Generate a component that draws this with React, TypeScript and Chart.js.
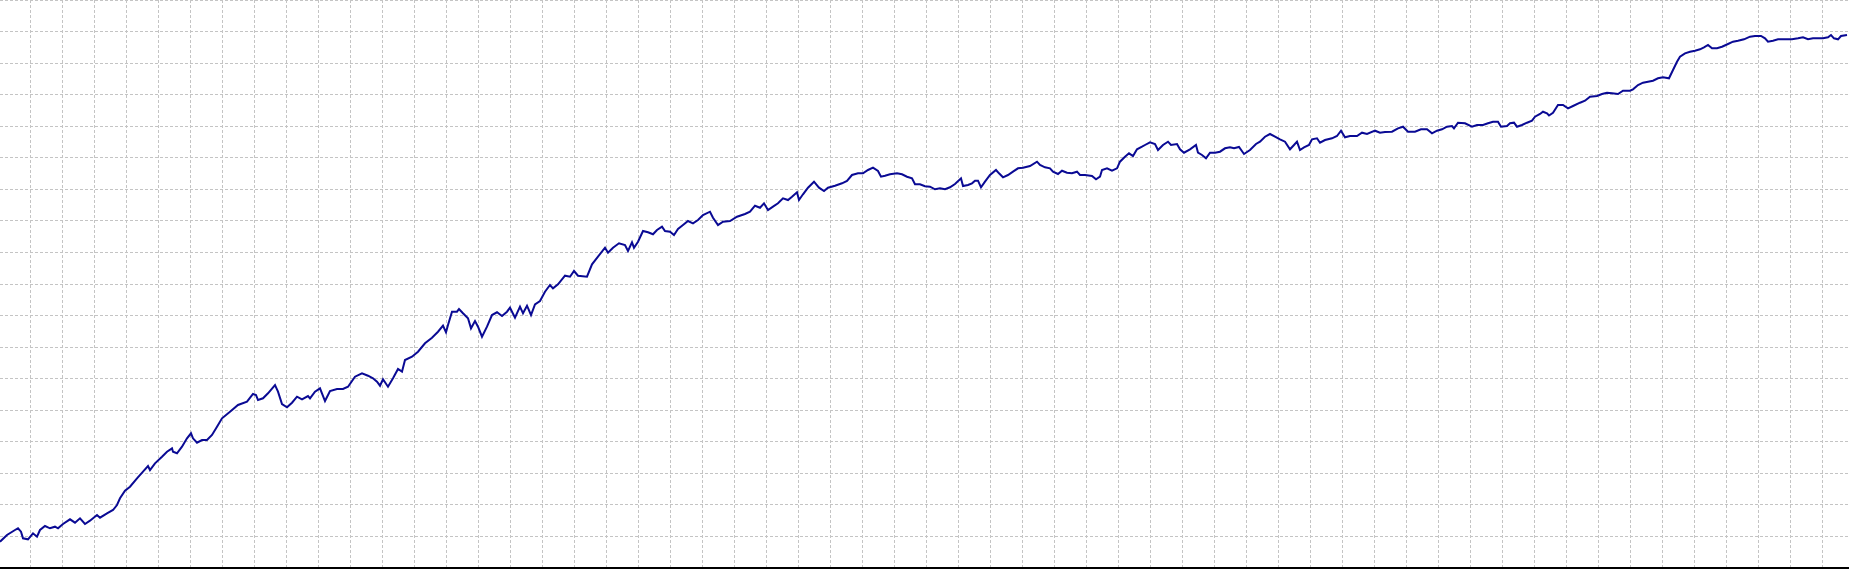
import { useEffect, useRef } from "react";
import { Chart, registerables } from "chart.js";

Chart.register(...registerables);

// Trade number (x) and account balance (y)
const trades: number[] = [
  0, 7, 15, 18, 21, 23, 28, 33, 37, 40, 45, 50, 55, 58, 63, 70, 75, 80, 85, 90, 97, 100, 107, 113, 117, 120, 125, 130, 137, 143, 148, 150, 155, 162, 167, 172, 173, 177, 182, 187, 191, 193, 197, 202, 207, 212, 217, 222, 230, 238, 247, 253, 256, 258, 263, 268, 275, 278, 282, 287, 292, 297, 302, 308,
  310, 315, 320, 325, 330, 337, 343, 348, 355, 362, 368, 373, 377, 380, 383, 388, 393, 398, 402, 405, 412, 418, 425, 432, 438, 443, 446, 448, 452, 457, 459, 463, 468, 471, 475, 478, 482, 487, 492, 497, 502, 507, 510, 515, 520, 523, 527, 531, 535, 540, 545, 550, 553, 558, 565, 570, 574, 578, 587, 592, 598, 605, 608, 613,
  619, 625, 628, 632, 634, 638, 643, 648, 653, 657, 662, 665, 670, 674, 678, 683, 688, 693, 698, 703, 710, 713, 718, 723, 730, 737, 745, 750, 755, 760, 764, 768, 773, 778, 783, 788, 792, 797, 799, 803, 808, 814, 819, 824, 828, 835, 842, 847, 852, 858, 863, 868, 873, 878, 881, 885, 890, 897, 902, 907, 912, 915, 920, 925,
  930, 935, 940, 945, 950, 955, 961, 963, 968, 972, 975, 978, 981, 985, 990, 996, 999, 1003, 1008, 1013, 1018, 1023, 1030, 1037, 1040, 1045, 1050, 1053, 1058, 1062, 1067, 1072, 1077, 1080, 1085, 1092, 1096, 1100, 1102, 1107, 1112, 1117, 1120, 1125, 1129, 1133, 1137, 1142, 1145, 1150, 1155, 1158, 1163, 1168, 1171, 1177, 1180, 1184, 1190, 1196, 1198, 1202, 1206, 1210, 1215, 1220, 1225, 1230, 1234,
  1239, 1244, 1250, 1256, 1260, 1265, 1270, 1275, 1280, 1285, 1290, 1294, 1297, 1300, 1304, 1309, 1312, 1317, 1320, 1325, 1332, 1337, 1341, 1345, 1350, 1357, 1362, 1367, 1375, 1380, 1385, 1392, 1398, 1403, 1408, 1415, 1421, 1427, 1432, 1437, 1442, 1447, 1452, 1454, 1458, 1465, 1472, 1477, 1483, 1488, 1493, 1498, 1501, 1507, 1510, 1514, 1517, 1522, 1527, 1532, 1535, 1540, 1543, 1547,
  1549, 1553, 1558, 1563, 1568, 1573, 1580, 1585, 1590, 1597, 1602, 1607, 1612, 1618, 1623, 1630, 1633, 1638, 1643, 1648, 1653, 1658, 1663, 1669, 1673, 1677, 1680, 1685, 1690, 1695, 1700, 1704, 1708, 1712, 1717, 1722, 1728, 1733, 1738, 1744, 1750, 1755, 1761, 1765, 1768, 1773, 1778, 1785, 1792, 1798, 1803, 1808, 1813, 1818, 1823, 1828, 1831, 1834, 1838, 1841, 1847,
];

const balance: number[] = [
  9853, 9920, 9970, 9987, 9953, 9887, 9877, 9937, 9903, 9970, 10010, 9987, 10003, 9987, 10030, 10077, 10043, 10087, 10030, 10063, 10120, 10093, 10137, 10170, 10220, 10287, 10363, 10403, 10487, 10553, 10610, 10570, 10637, 10703, 10753, 10787, 10753, 10737, 10803, 10887, 10937, 10887, 10843, 10870, 10870, 10920, 11003, 11087, 11153, 11220, 11253, 11330, 11320, 11270, 11287, 11337, 11420, 11353, 11230, 11197, 11243, 11303, 11277, 11310,
  11287, 11353, 11387, 11260, 11360, 11380, 11380, 11403, 11503, 11537, 11513, 11487, 11453, 11413, 11477, 11403, 11487, 11580, 11553, 11670, 11703, 11753, 11837, 11893, 11953, 12013, 11947, 12020, 12153, 12153, 12180, 12137, 12087, 11987, 12060, 12003, 11903, 12003, 12120, 12147, 12110, 12153, 12193, 12093, 12203, 12137, 12213, 12120, 12227, 12260, 12353, 12420, 12387, 12427, 12513, 12503, 12560, 12513, 12503, 12627, 12703, 12793, 12743, 12793,
  12837, 12820, 12760, 12847, 12793, 12853, 12960, 12947, 12927, 12970, 13003, 12960, 12953, 12920, 12980, 13020, 13060, 13037, 13070, 13120, 13153, 13093, 13020, 13053, 13060, 13103, 13130, 13153, 13213, 13193, 13237, 13170, 13203, 13237, 13287, 13270, 13303, 13347, 13270, 13327, 13393, 13453, 13393, 13360, 13393, 13413, 13437, 13460, 13520, 13537, 13537, 13570, 13593, 13560, 13503, 13513, 13527, 13537, 13527, 13503, 13487, 13427, 13427, 13407,
  13403, 13377, 13387, 13377, 13397, 13430, 13487, 13410, 13420, 13437, 13463, 13463, 13397, 13453, 13520, 13570, 13537, 13497, 13520, 13553, 13587, 13593, 13610, 13653, 13620, 13597, 13587, 13553, 13530, 13563, 13543, 13537, 13553, 13520, 13520, 13510, 13477, 13503, 13570, 13587, 13563, 13587, 13653, 13703, 13737, 13710, 13777, 13803, 13820, 13847, 13830, 13770, 13820, 13853, 13820, 13830, 13777, 13743, 13777, 13820, 13743, 13720, 13687, 13743, 13743, 13753, 13787, 13797, 13787,
  13800, 13730, 13770, 13830, 13853, 13903, 13930, 13903, 13877, 13853, 13777, 13820, 13853, 13770, 13797, 13820, 13877, 13887, 13843, 13870, 13887, 13910, 13963, 13897, 13910, 13910, 13943, 13930, 13963, 13943, 13950, 13953, 13987, 14003, 13953, 13953, 13977, 13977, 13937, 13963, 13977, 14003, 14010, 13987, 14043, 14037, 14003, 14020, 14020, 14037, 14053, 14053, 14003, 14010, 14037, 14043, 14003, 14020, 14043, 14063, 14103, 14130, 14153, 14137,
  14115, 14143, 14220, 14220, 14187, 14210, 14243, 14263, 14303, 14310, 14330, 14343, 14337, 14330, 14363, 14363, 14377, 14420, 14443, 14453, 14463, 14487, 14497, 14487, 14570, 14653, 14703, 14737, 14753, 14763, 14777, 14797, 14820, 14787, 14787, 14803, 14830, 14853, 14863, 14877, 14903, 14910, 14910, 14887, 14853, 14863, 14877, 14877, 14877, 14887, 14897, 14877, 14887, 14887, 14887, 14897, 14920, 14887, 14877, 14910, 14920,
];

// Axis ranges and grid steps
const tradeRange = [0, 1849];
const balanceRange = [9590, 15270];
const balanceGridStep = 320;
const tradeGridRange = [-30.5, 1818.5];
const tradeGridStep = 32;

const LINE_COLOR = "#0a0a94";
const GRID_COLOR = "#c4c4c4";

export default function App() {
  const ref = useRef<HTMLCanvasElement>(null);

  useEffect(() => {
    document.body.style.margin = "0";
    const canvas = ref.current;
    if (!canvas) return;
    const points = trades.map((t, i) => ({ x: t, y: balance[i] }));
    const chart = new Chart(canvas, {
      type: "line",
      data: {
        datasets: [
          {
            data: points,
            borderColor: LINE_COLOR,
            backgroundColor: LINE_COLOR,
            borderWidth: 2,
            pointRadius: 0,
            tension: 0,
            fill: false,
            xAxisID: "x",
            yAxisID: "y",
          },
        ],
      },
      options: {
        responsive: false,
        animation: false,
        devicePixelRatio: 1,
        layout: { padding: { top: 0, left: 0, right: 0, bottom: 2 } },
        plugins: { legend: { display: false }, tooltip: { enabled: false } },
        scales: {
          x: {
            type: "linear",
            display: false,
            min: tradeRange[0],
            max: tradeRange[1],
          },
          xg: {
            type: "linear",
            position: "bottom",
            min: tradeGridRange[0],
            max: tradeGridRange[1],
            ticks: { display: false, stepSize: tradeGridStep, includeBounds: false },
            grid: { color: GRID_COLOR, lineWidth: 1, drawTicks: false },
            border: { display: true, color: "#000000", width: 2, dash: [3, 2] },
          },
          y: {
            type: "linear",
            position: "left",
            min: balanceRange[0],
            max: balanceRange[1],
            ticks: { display: false, stepSize: balanceGridStep, includeBounds: false },
            grid: { color: GRID_COLOR, lineWidth: 1, drawTicks: false },
            border: { display: false, dash: [3, 2] },
          },
        },
      },
    });
    return () => chart.destroy();
  }, []);

  return (
    <div style={{ position: "absolute", left: 0, top: 0, width: 1849, height: 570, background: "#ffffff" }}>
      <canvas ref={ref} width={1849} height={570} style={{ display: "block", width: 1849, height: 570 }} />
    </div>
  );
}
